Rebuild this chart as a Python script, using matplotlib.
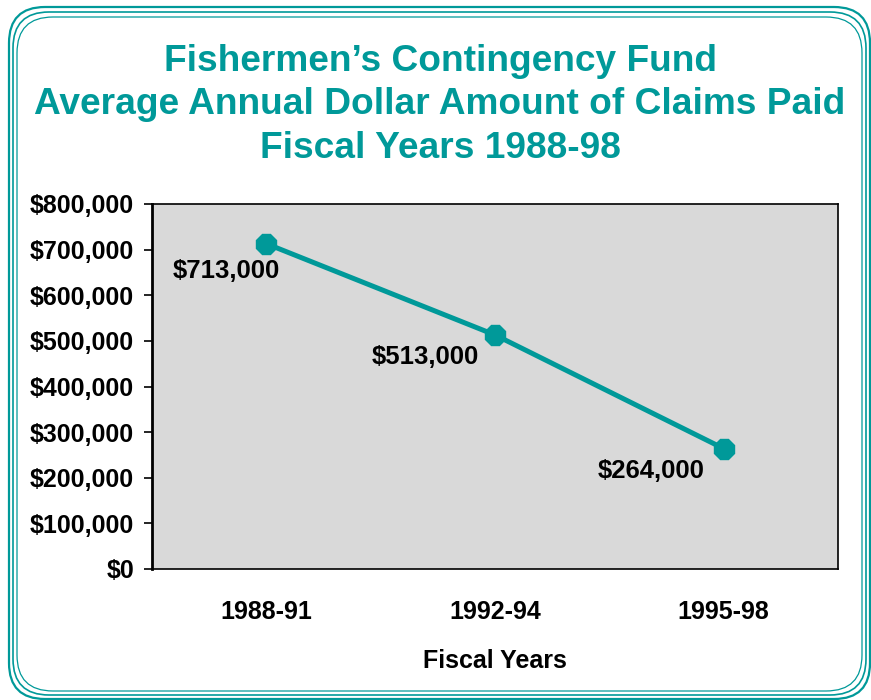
import matplotlib.pyplot as plt
from matplotlib.patches import FancyBboxPatch
from matplotlib.ticker import FuncFormatter

plt.rcParams['font.family'] = ['Liberation Sans', 'DejaVu Sans']

periods = ['1988-91', '1992-94', '1995-98']
claims = [713000, 513000, 264000]
teal = '#009999'

W, H = 871, 700
fig = plt.figure(figsize=(W / 100, H / 100), dpi=100)

# background axes in pixel units for the rounded triple border
bg = fig.add_axes([0, 0, 1, 1])
bg.set_xlim(0, W)
bg.set_ylim(H, 0)
bg.axis('off')
for x0, y0, x1, y1, lw in [(9, 7, 870, 699, 1.6), (13, 12, 866, 695, 1.2), (17, 17, 862, 691, 0.9)]:
    bg.add_patch(FancyBboxPatch((x0, y0), x1 - x0, y1 - y0,
                                boxstyle='round,pad=0,rounding_size=36',
                                fill=False, ec=teal, lw=lw))

ax = fig.add_axes([152 / W, 1 - 569 / H, (838 - 152) / W, (569 - 204) / H])

x = list(range(len(periods)))
ax.plot(x, claims, color=teal, lw=3.6, marker='8', markersize=16, zorder=3)
# label offsets in points (left/below each marker)
offsets = [(-29, -20), (-50, -16), (-52, -16)]
for xi, v, off in zip(x, claims, offsets):
    ax.annotate(f'${v:,.0f}', (xi, v), xytext=off, textcoords='offset points',
                ha='center', va='center', fontsize=18.5, fontweight='bold')

ax.set_facecolor('#d9d9d9')
ax.set_xlim(-0.5, 2.5)
ax.set_ylim(0, 800000)
ax.set_yticks(range(0, 800001, 100000))
ax.yaxis.set_major_formatter(FuncFormatter(lambda v, p: f'${v:,.0f}'))
ax.set_xticks(x)
ax.set_xticklabels(periods)
ax.tick_params(axis='y', length=6, width=1.2, labelsize=18, pad=7)
ax.tick_params(axis='x', length=0, labelsize=18, pad=22)
for lab in ax.get_xticklabels() + ax.get_yticklabels():
    lab.set_fontweight('bold')
for s in ax.spines.values():
    s.set_linewidth(1.2)
ax.spines['left'].set_linewidth(2)
ax.set_xlabel('Fiscal Years', fontsize=18, fontweight='bold', labelpad=18)

fig.text(440 / W, 1 - 105 / H,
         'Fishermen\u2019s Contingency Fund\nAverage Annual Dollar Amount of Claims Paid\nFiscal Years 1988-98',
         ha='center', va='center', fontsize=26.7, fontweight='bold', color=teal, linespacing=1.33)

fig.savefig('out.png', dpi=100)
